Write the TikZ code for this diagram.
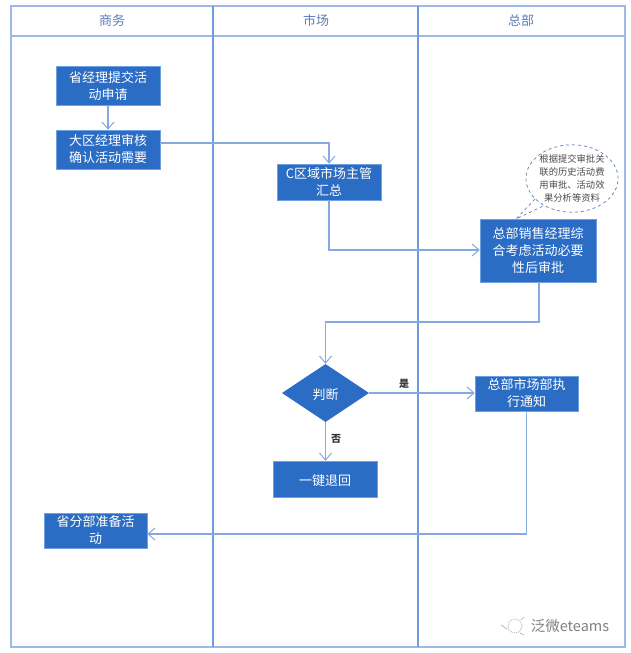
\documentclass[tikz,border=0pt]{standalone}
\usepackage{fontspec}
\setmainfont{Noto Sans CJK SC}
\usetikzlibrary{arrows.meta,shapes.geometric,calc}
\definecolor{frameblue}{HTML}{9DB9E8}
\definecolor{divblue}{HTML}{6F9BE0}
\definecolor{boxblue}{HTML}{2B6CC4}
\definecolor{boxedge}{HTML}{6FA0E0}
\definecolor{linkblue}{HTML}{86A9E2}
\definecolor{headtext}{HTML}{5B7FB5}
\tikzset{
  x=1pt,y=-1pt,
  lane/.style={draw=frameblue,line width=1.1pt},
  divider/.style={draw=divblue,line width=1.3pt},
  headlabel/.style={font=\fontsize{13}{15}\selectfont,text=headtext,inner sep=0pt},
  lowered/.style={execute at begin node={\rule{0pt}{15pt}}},
  flowbox/.style={rectangle,draw=boxedge,line width=0.5pt,fill=boxblue,text=white,align=center,inner sep=0pt,lowered,font=\fontsize{13}{17}\selectfont},
  decision/.style={diamond,aspect=1.5,fill=boxblue,text=white,inner sep=0pt,lowered,font=\fontsize{13}{17}\selectfont,minimum width=87pt,minimum height=58pt},
  link/.style={draw=linkblue,line width=1.2pt,-{Straight Barb[length=7pt,width=12pt,line width=1pt]}},
  branch/.style={font=\fontsize{10}{12}\selectfont\bfseries,text=black!80,inner sep=0pt},
  note/.style={ellipse,draw=headtext,dashed,line width=0.7pt,fill=white,align=center,inner sep=0pt,minimum width=90pt,minimum height=67pt,text=black!70,font=\fontsize{9.3}{13}\selectfont},
  tail/.style={draw=headtext,dashed,line width=0.7pt},
}
\begin{document}
\begin{tikzpicture}
\useasboundingbox (0,0) rectangle (631,653);
\fill[white] (0,0) rectangle (631,653);
% swimlanes
\draw[lane] (11,6) rectangle (625,647);
\draw[lane] (11,36) -- (625,36);
\draw[divider] (213,6) -- (213,647);
\draw[divider] (418,6) -- (418,647);
\node[headlabel] (h1) at (112,21) {商务};
\node[headlabel] (h2) at (316,21) {市场};
\node[headlabel] (h3) at (521,21) {总部};
% boxes
\node[flowbox,minimum width=104pt,minimum height=39pt] (a) at (108,85.5) {省经理提交活\\动申请};
\node[flowbox,minimum width=104pt,minimum height=39pt] (b) at (108,149.5) {大区经理审核\\确认活动需要};
\node[flowbox,minimum width=104pt,minimum height=36pt] (c) at (329,182) {C区域市场主管\\汇总};
\node[flowbox,minimum width=116pt,minimum height=63pt] (d) at (538,250.5) {总部销售经理综\\合考虑活动必要\\性后审批};
\node[decision] (e) at (325.5,393) {判断};
\node[flowbox,minimum width=103pt,minimum height=35pt] (f) at (526.5,393.5) {总部市场部执\\行通知};
\node[flowbox,minimum width=104pt,minimum height=36pt] (g) at (325,479) {一键退回};
\node[flowbox,minimum width=103pt,minimum height=35pt] (k) at (95.5,530.5) {省分部准备活\\动};
% callout
\coordinate (tip) at (516,219);
\coordinate (t1) at (535,199);
\coordinate (t2) at (543,206);
\node[note] (n) at (572,178.5) {根据提交审批关\\联的历史活动费\\用审批、活动效\\果分析等资料};
\draw[tail] (t1) -- (tip) -- (t2);
% connectors
\draw[link] (a.south) -- (b.north);
\draw[link] (b.east |- 0,143) -- (329,143) -- (c.north);
\draw[link] (c.south) -- (329,250) -- (d.west |- 0,250);
\draw[link] (539,282) -- (539,322) -- (325.5,322) -- (e.north);
\draw[link] (e.east) -- (f.west |- e.east);
\draw[link] (e.south) -- (g.north -| e.south);
\draw[link] (f.south) -- (526.5,534) -- (k.east |- 0,534);
\node[branch] (yes) at (404,384) {是};
\node[branch] (no) at (336,439) {否};
% watermark
\node[inner sep=0pt,text=black!50,font=\fontsize{14.5}{16}\selectfont] (wm) at (570,626) {泛微eteams};
\draw[black!35,densely dotted,line width=0.8pt] (515,626) circle (7);
\draw[black!35,line width=0.6pt] (501,625) -- (507,629) (521,620) -- (524,617) (520,633) -- (524,635);
\end{tikzpicture}
\end{document}
